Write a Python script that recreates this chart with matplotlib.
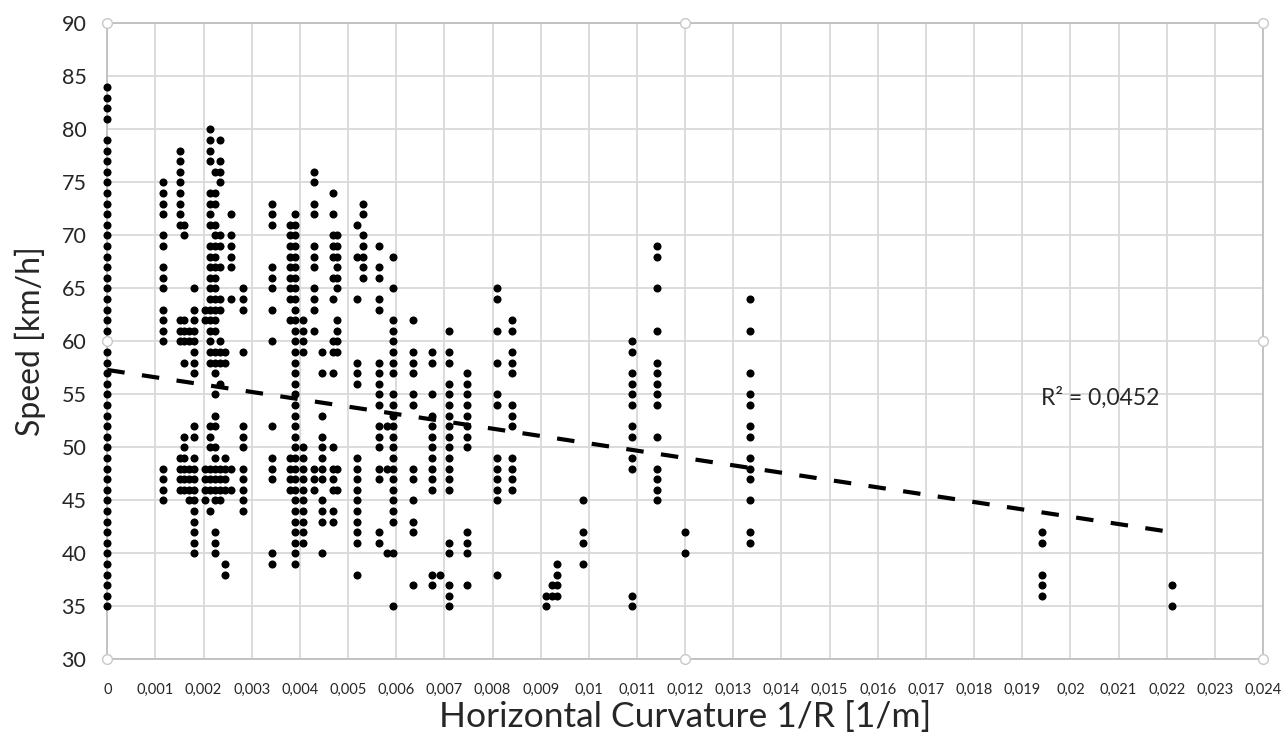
import matplotlib
matplotlib.use("Agg")
import matplotlib.pyplot as plt
from matplotlib.ticker import FuncFormatter

# ---------------- data ----------------
curvature_columns = [
    0.0, 0.00116, 0.0015, 0.0016, 0.0017, 0.0018,
    0.00203, 0.00213, 0.00224, 0.00234, 0.00244, 0.00256, 0.00282,
    0.00343, 0.0038, 0.0039, 0.00407, 0.0043, 0.00445, 0.00468, 0.00476,
    0.00518, 0.0053, 0.00564, 0.0058, 0.00594, 0.00635, 0.00675, 0.0069,
    0.0071, 0.00746, 0.0081, 0.0084, 0.00912, 0.00923, 0.00933, 0.00987,
    0.0109, 0.01142, 0.012, 0.01334, 0.0194, 0.0221,
]

speed_columns = [
    [35, 36, 37, 38, 39, 40, 41, 42, 43, 44, 45, 46, 47, 48, 49, 50, 51, 52, 53, 54,
     55, 56, 57, 58, 59, 60, 61, 62, 63, 64, 65, 66, 67, 68, 69, 70, 71, 72, 73, 74,
     75, 76, 77, 78, 79, 81, 82, 83, 84],
    [75, 74, 73, 72, 70, 69, 67, 66, 65, 63, 62, 61, 60, 48, 47, 46, 45],
    [78, 77, 76, 75, 74, 73, 72, 71, 62, 61, 60, 49, 48, 47, 46],
    [71, 70, 62, 61, 60, 58, 51, 50, 49, 48, 47, 46],
    [61, 60, 48, 47, 46, 45],
    [65, 63, 62, 61, 60, 59, 58, 57, 52, 51, 49, 48, 47, 46, 45, 44, 43, 42, 41, 40],
    [63, 62, 48, 47, 46, 45],
    [80, 79, 78, 77, 74, 73, 72, 71, 69, 68, 67, 66, 65, 64, 63, 62, 61, 60, 59, 58,
     52, 51, 50, 48, 47, 46, 44],
    [76, 74, 73, 71, 70, 69, 68, 67, 66, 65, 64, 63, 62, 61, 59, 58, 57, 55, 53, 52,
     50, 49, 48, 47, 46, 45, 42, 41, 40],
    [79, 77, 76, 75, 70, 69, 67, 64, 63, 60, 59, 58, 56, 48, 47, 46, 45],
    [59, 58, 49, 48, 47, 46, 39, 38],
    [72, 70, 69, 68, 67, 64, 48, 46],
    [65, 64, 63, 59, 52, 51, 50, 48, 47, 46, 45, 44],
    [73, 72, 71, 67, 66, 65, 63, 60, 52, 49, 48, 47, 40, 39],
    [71, 70, 69, 68, 67, 66, 65, 64, 62, 49, 48, 47, 46],
    [72, 71, 70, 69, 68, 67, 66, 65, 64, 63, 62, 61, 60, 59, 58, 57, 56, 55, 54, 53,
     52, 51, 50, 49, 48, 47, 46, 45, 44, 43, 42, 41, 40, 39],
    [62, 61, 60, 59, 50, 49, 48, 47, 46, 45, 44, 43, 42, 41],
    [76, 75, 73, 72, 69, 68, 67, 65, 64, 63, 61, 48, 47, 46],
    [59, 57, 53, 51, 50, 49, 48, 47, 45, 44, 43, 40],
    [74, 72, 70, 69, 68, 66, 64, 60, 59, 57, 50, 48, 47, 46, 44, 43],
    [70, 69, 68, 67, 66, 65, 62, 61, 60, 59, 48, 46],
    [71, 68, 64, 58, 57, 56, 49, 48, 47, 46, 45, 44, 43, 42, 41, 38],
    [73, 72, 70, 69, 68, 67, 66],
    [69, 67, 66, 64, 63, 58, 57, 56, 55, 54, 52, 51, 50, 48, 47, 42, 41],
    [52, 48, 40],
    [68, 65, 62, 61, 60, 59, 58, 57, 55, 54, 53, 52, 51, 50, 49, 48, 47, 46, 45, 44,
     43, 40, 35],
    [62, 59, 58, 57, 55, 54, 48, 47, 45, 43, 42, 37],
    [59, 58, 55, 53, 52, 51, 50, 49, 48, 47, 46, 38, 37],
    [38],
    [61, 59, 58, 56, 55, 54, 53, 52, 51, 50, 49, 48, 47, 46, 41, 40, 37, 36, 35],
    [57, 56, 55, 54, 53, 52, 51, 50, 42, 41, 40, 37],
    [65, 64, 61, 58, 55, 54, 49, 48, 47, 46, 45, 38],
    [62, 61, 59, 58, 57, 54, 53, 52, 49, 48, 47, 46],
    [36, 35],
    [37, 36],
    [39, 38, 37, 36],
    [45, 42, 41, 39],
    [60, 59, 57, 56, 55, 54, 52, 51, 49, 48, 36, 35],
    [69, 68, 65, 61, 58, 57, 56, 55, 54, 51, 48, 47, 46, 45],
    [42, 40],
    [64, 61, 57, 55, 54, 52, 51, 49, 48, 47, 45, 42, 41],
    [42, 41, 38, 37, 36],
    [37, 35],
]

trend_x = [0.0, 0.0221]
trend_y = [57.3, 42.0]
r2_label = "R² = 0,0452"
r2_pos = (0.01938, 54.65)

x_ticks = [0, 0.001, 0.002, 0.003, 0.004, 0.005, 0.006, 0.007, 0.008, 0.009, 0.010,
           0.011, 0.012, 0.013, 0.014, 0.015, 0.016, 0.017, 0.018, 0.019, 0.020,
           0.021, 0.022, 0.023, 0.024]
y_ticks = [30, 35, 40, 45, 50, 55, 60, 65, 70, 75, 80, 85, 90]

x_label = "Horizontal Curvature 1/R [1/m]"
y_label = "Speed [km/h]"

# ---------------- drawing ----------------
plt.rcParams['font.family'] = ['Lato', 'DejaVu Sans']
text_color = '#262626'

fig = plt.figure(figsize=(12.85, 7.38), dpi=100)
ax = fig.add_axes([0.0835, 0.1066, 0.8994, 0.8618])

xs, ys = [], []
for cx, vals in zip(curvature_columns, speed_columns):
    xs.extend([cx] * len(vals))
    ys.extend(vals)

ax.plot(xs, ys, linestyle='none', marker='o', ms=5.8, color='black',
        mew=0, zorder=5, clip_on=False)
ax.plot(trend_x, trend_y, color='black', lw=3, dashes=(4.2, 4.2),
        dash_capstyle='butt', zorder=4)

ax.set_xlim(0, 0.024)
ax.set_ylim(30, 90)
ax.set_xticks(x_ticks)
ax.set_yticks(y_ticks)


def fmt_x(v, pos):
    if abs(v) < 1e-12:
        return "0"
    return f"{v:.3f}".rstrip('0').replace('.', ',')


ax.xaxis.set_major_formatter(FuncFormatter(fmt_x))
ax.tick_params(axis='x', length=0, pad=17, labelsize=10.5, labelcolor=text_color)
ax.tick_params(axis='y', length=0, pad=15, labelsize=15.5, labelcolor=text_color)

ax.grid(True, color='#d9d9d9', lw=1.3, zorder=0)
ax.set_axisbelow(True)
for sp in ax.spines.values():
    sp.set_color('#bfbfbf')
    sp.set_linewidth(1.3)

ax.set_xlabel(x_label, fontsize=25.5, color=text_color)
ax.xaxis.set_label_coords(0.5, -0.0907)
ax.xaxis.label.set_verticalalignment('center')
ax.set_ylabel(y_label, fontsize=23, color=text_color)
ax.yaxis.set_label_coords(-0.0669, 0.5)
ax.yaxis.label.set_verticalalignment('center')

ax.text(r2_pos[0], r2_pos[1], r2_label, fontsize=16.5, color=text_color,
        ha='left', va='center')

# selection handles on the plot frame (decorative, as in the reference)
for hx, hy in [(0, 0), (0.5, 0), (1, 0), (0, 0.5), (1, 0.5), (0, 1), (0.5, 1), (1, 1)]:
    ax.plot(hx, hy, marker='o', ms=7, mfc='white', mec='#c8c8c8', mew=1,
            transform=ax.transAxes, clip_on=False, zorder=6)

fig.savefig("out.png", dpi=100)
